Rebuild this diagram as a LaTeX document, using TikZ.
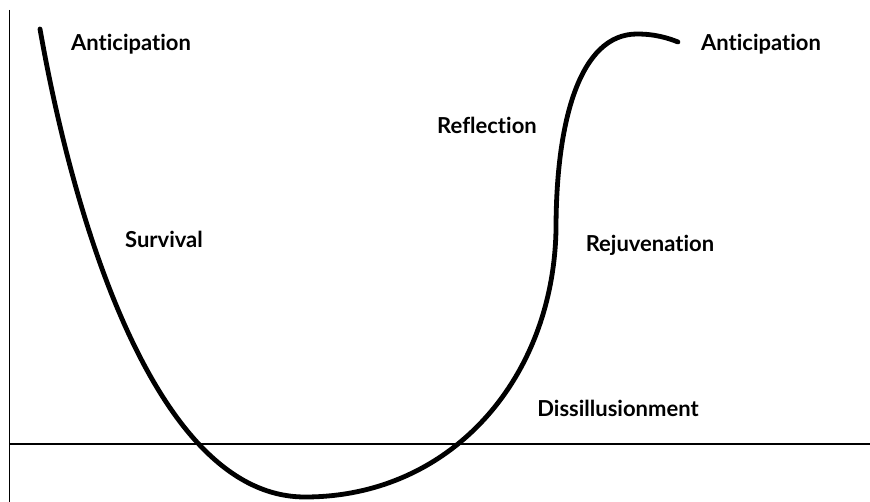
\documentclass[tikz,border=0pt]{standalone}
\usepackage{fontspec}
\setmainfont{Lato}[RawFeature={-liga;-dlig}]
\begin{document}
\begin{tikzpicture}[x=1pt,y=-1pt,
  lbl/.style={font=\fontsize{22}{25}\selectfont\bfseries, inner sep=0pt, anchor=center},
  axis/.style={line width=1.4pt},
  curveline/.style={line width=4.8pt, line cap=round, line join=round}]
\useasboundingbox (0,0) rectangle (870,502);
% axes
\coordinate (ytop) at (9.5,10);
\coordinate (ybot) at (9.5,502);
\coordinate (xleft) at (9.5,444);
\coordinate (xright) at (870,444);
\draw[axis] (ytop) -- (ybot);
\draw[axis] (xleft) -- (xright);
% curve
\coordinate (c0) at (40,29);
\coordinate (c1) at (305,497);
\coordinate (c2) at (556,230);
\coordinate (c3) at (637,34);
\coordinate (c4) at (678,42);
\draw[curveline] (c0) .. controls (70,200) and (150,497) .. (c1)
  .. controls (450,497) and (553,380) .. (c2)
  .. controls (556,120) and (580,34) .. (c3)
  .. controls (655,34) and (668,38) .. (c4);
% labels
\node[lbl] (ant1) at (131,44) {Anticipation};
\node[lbl] (ant2) at (761,44) {Anticipation};
\node[lbl] (refl) at (487,125) {Reflection};
\node[lbl] (surv) at (164,239) {Survival};
\node[lbl] (rejuv) at (650,245) {Rejuvenation};
\node[lbl] (diss) at (618,408) {Dissillusionment};
\end{tikzpicture}
\end{document}
